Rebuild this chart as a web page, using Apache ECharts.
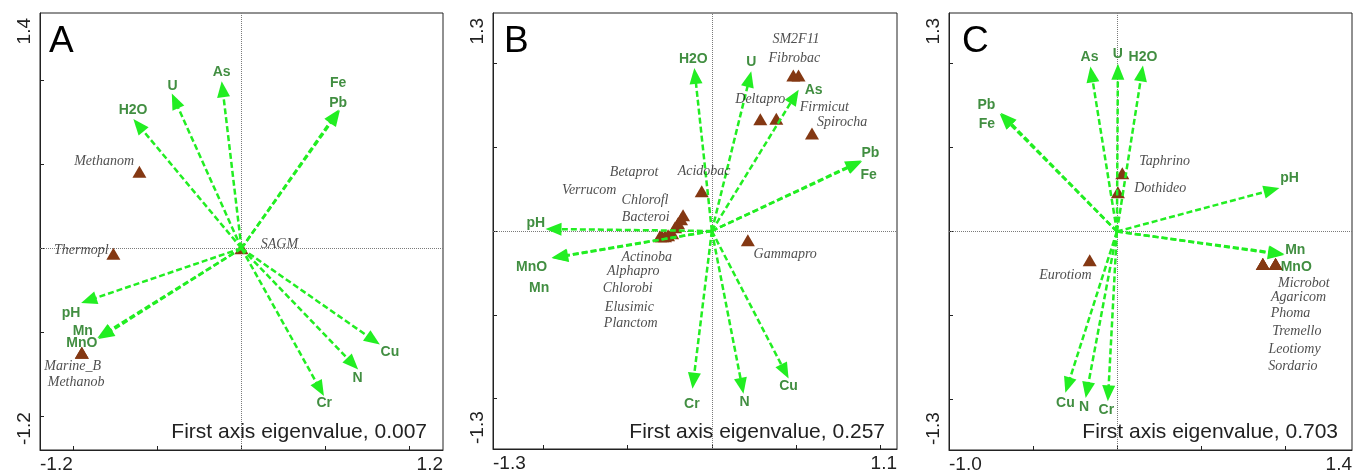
<!DOCTYPE html>
<html><head><meta charset="utf-8">
<script src="https://cdn.jsdelivr.net/npm/echarts@6/dist/echarts.min.js"></script>
<style>html,body{margin:0;padding:0;background:#fff}#c{width:1355px;height:474px}</style>
</head><body><div id="c"></div>
<script>
// ---------- DATA ----------
const panelLetters = ['A', 'B', 'C'];
const eigenvalues = ['0.007', '0.257', '0.703'];
const xAxisLimits = [[-1.2, 1.2], [-1.3, 1.1], [-1.0, 1.4]];
const yAxisLimits = [[-1.2, 1.4], [-1.3, 1.3], [-1.3, 1.3]];
const tickValues = [-1, -0.5, 0, 0.5, 1];

// Panel A - environmental arrows (tips) and label anchors
const envNamesA = ['H2O', 'U', 'As', 'Fe', 'Pb', 'pH', 'Mn', 'MnO', 'Cu', 'N', 'Cr'];
const envXA = [-0.644, -0.415, -0.118, 0.586, 0.580, -0.955, -0.858, -0.852, 0.824, 0.695, 0.491];
const envYA = [0.769, 0.921, 0.994, 0.822, 0.826, -0.325, -0.533, -0.540, -0.573, -0.721, -0.879];
const envLabelXA = [-0.646, -0.410, -0.118, 0.576, 0.576, -1.015, -0.945, -0.951, 0.884, 0.691, 0.493];
const envLabelYA = [0.822, 0.966, 1.046, 0.984, 0.865, -0.383, -0.495, -0.567, -0.620, -0.775, -0.922];
// Panel A - taxa
const spNamesA = ['Methanom', 'Thermopl', 'SAGM', 'Marine_B', 'Methanob'];
const spXA = [-0.608, -0.763, 0.0, -0.951, -0.951];
const spYA = [0.456, -0.033, 0.0, -0.622, -0.622];
const spLabelXA = [-0.818, -0.954, 0.226, -1.005, -0.985];
const spLabelYA = [0.519, -0.013, 0.025, -0.701, -0.800];

// Panel B
const envNamesB = ['H2O', 'U', 'As', 'Pb', 'Fe', 'pH', 'MnO', 'Mn', 'Cr', 'N', 'Cu'];
const envXB = [-0.104, 0.234, 0.516, 0.893, 0.888, -0.988, -0.952, -0.948, -0.115, 0.188, 0.456];
const envYB = [0.972, 0.952, 0.843, 0.416, 0.420, 0.012, -0.159, -0.163, -0.940, -0.970, -0.880];
const envLabelXB = [-0.110, 0.234, 0.605, 0.942, 0.932, -1.046, -1.071, -1.026, -0.119, 0.194, 0.456];
const envLabelYB = [1.024, 1.008, 0.839, 0.467, 0.332, 0.048, -0.215, -0.338, -1.033, -1.020, -0.926];
const spNamesB = ['SM2F11', 'Fibrobac', 'Deltapro', 'Firmicut', 'Spirocha', 'Acidobac', 'Betaprot', 'Verrucom',
  'Chlorofl', 'Bacteroi', 'Actinoba', 'Alphapro', 'Chlorobi', 'Elusimic', 'Planctom', 'Gammapro'];
const spXB = [0.515, 0.484, 0.288, 0.383, 0.595, -0.060, -0.171, -0.183, -0.201, -0.218, -0.236, -0.260, -0.278, -0.296, -0.308, 0.214];
const spYB = [0.928, 0.928, 0.666, 0.670, 0.581, 0.237, 0.094, 0.070, 0.046, 0.022, -0.014, -0.026, -0.032, -0.032, -0.032, -0.055];
const spLabelXB = [0.500, 0.490, 0.288, 0.668, 0.774, -0.046, -0.462, -0.729, -0.397, -0.393, -0.387, -0.467, -0.500, -0.490, -0.482, 0.436];
const spLabelYB = [1.143, 1.028, 0.783, 0.736, 0.646, 0.356, 0.352, 0.243, 0.183, 0.080, -0.155, -0.238, -0.343, -0.457, -0.552, -0.141];

// Panel C
const envNamesC = ['As', 'U', 'H2O', 'Pb', 'Fe', 'pH', 'Mn', 'MnO', 'Cu', 'N', 'Cr'];
const envXC = [-0.158, 0.006, 0.155, -0.698, -0.692, 0.968, 0.998, 0.994, -0.307, -0.186, -0.054];
const envYC = [0.982, 0.998, 0.988, 0.700, 0.706, 0.259, -0.135, -0.140, -0.960, -0.990, -1.010];
const envLabelXC = [-0.163, 0.006, 0.155, -0.777, -0.774, 1.028, 1.062, 1.068, -0.307, -0.196, -0.063];
const envLabelYC = [1.038, 1.058, 1.038, 0.750, 0.636, 0.316, -0.111, -0.211, -1.020, -1.045, -1.065];
const spNamesC = ['Taphrino', 'Dothideo', 'Eurotiom', 'Microbot', 'Agaricom', 'Phoma', 'Tremello', 'Leotiomy', 'Sordario'];
const spXC = [0.032, 0.006, -0.162, 0.945, 0.945, 0.869, 0.869, 0.945, 0.869];
const spYC = [0.346, 0.233, -0.171, -0.194, -0.194, -0.194, -0.194, -0.194, -0.194];
const spLabelXC = [0.284, 0.258, -0.307, 1.113, 1.082, 1.034, 1.071, 1.058, 1.048];
const spLabelYC = [0.416, 0.259, -0.260, -0.308, -0.394, -0.489, -0.596, -0.698, -0.801];

// ---------- BUILD ----------
const panels = [
  { env: [envNamesA, envXA, envYA, envLabelXA, envLabelYA], sp: [spNamesA, spXA, spYA, spLabelXA, spLabelYA] },
  { env: [envNamesB, envXB, envYB, envLabelXB, envLabelYB], sp: [spNamesB, spXB, spYB, spLabelXB, spLabelYB] },
  { env: [envNamesC, envXC, envYC, envLabelXC, envLabelYC], sp: [spNamesC, spXC, spYC, spLabelXC, spLabelYC] }
];
const gridBoxes = [
  { left: 40, top: 13, width: 403, height: 438 },
  { left: 493, top: 13, width: 404, height: 436 },
  { left: 949, top: 13, width: 404, height: 437 }
];
const letterLeft = [44, 499, 957];
const eigenRight = [923, 465, 12];

const ARROW = '#22ee22';
const ENVTXT = '#127212';
const TAXON = '#843813';
const SPTXT = '#222';
const AXIS = '#222';
const HEAD_W = 13, HEAD_L = 16;

const grids = [], xAxes = [], yAxes = [], series = [], titles = [];
const fmt = v => Number(v).toFixed(1);

panels.forEach((p, i) => {
  const box = gridBoxes[i];
  grids.push(Object.assign({ show: true, borderColor: AXIS, borderWidth: 1, backgroundColor: '#fff' }, box));
  xAxes.push({
    gridIndex: i, type: 'value', min: xAxisLimits[i][0], max: xAxisLimits[i][1],
    splitLine: { show: false },
    axisLine: { show: true, onZero: false, lineStyle: { color: AXIS, width: 1 } },
    axisTick: { show: true, inside: true, length: 4, customValues: tickValues, lineStyle: { color: AXIS } },
    axisLabel: {
      customValues: xAxisLimits[i], formatter: fmt, fontSize: 19, color: AXIS,
      fontFamily: 'Liberation Sans', margin: 5, alignMinLabel: 'left', alignMaxLabel: 'right'
    }
  });
  yAxes.push({
    gridIndex: i, type: 'value', min: yAxisLimits[i][0], max: yAxisLimits[i][1],
    splitLine: { show: false },
    axisLine: { show: true, onZero: false, lineStyle: { color: AXIS, width: 1 } },
    axisTick: { show: true, inside: true, length: 4, customValues: tickValues, lineStyle: { color: AXIS } },
    axisLabel: {
      customValues: yAxisLimits[i], formatter: fmt, fontSize: 19, color: AXIS, rotate: 90,
      fontFamily: 'Liberation Sans', margin: 6, alignMinLabel: 'left', alignMaxLabel: 'right',
      padding: [0, 5, 0, 5]
    }
  });

  const [eN, eX, eY, eLX, eLY] = p.env;
  const [sN, sX, sY, sLX, sLY] = p.sp;
  const sx = box.width / (xAxisLimits[i][1] - xAxisLimits[i][0]);
  const sy = box.height / (yAxisLimits[i][1] - yAxisLimits[i][0]);

  // taxa triangles (+ zero reference lines)
  series.push({
    type: 'scatter', xAxisIndex: i, yAxisIndex: i, z: 2, silent: true,
    symbol: 'triangle', symbolSize: [14, 12],
    itemStyle: { color: TAXON, opacity: 1 },
    data: sN.map((n, k) => [sX[k], sY[k], n]),
    markLine: {
      silent: true, z: 1, symbol: 'none', animation: false,
      label: { show: false },
      lineStyle: { color: '#7a7a7a', type: 'dotted', width: 1 },
      data: [{ xAxis: 0 }, { yAxis: 0 }]
    }
  });

  // environmental arrow heads (scatter, rotated along the arrow) hosting the dashed shafts
  series.push({
    type: 'scatter', xAxisIndex: i, yAxisIndex: i, z: 4, silent: true,
    symbol: 'triangle', symbolSize: [HEAD_W, HEAD_L],
    itemStyle: { color: ARROW, opacity: 1 },
    data: eN.map((n, k) => {
      const a = Math.atan2(eY[k] * sy, eX[k] * sx);
      return {
        value: [eX[k], eY[k], n],
        symbolRotate: a * 180 / Math.PI - 90,
        symbolOffset: [-Math.cos(a) * HEAD_L / 2, Math.sin(a) * HEAD_L / 2]
      };
    }),
    markLine: {
      silent: true, z: 3, animation: false,
      symbol: 'none',
      label: { show: false },
      lineStyle: { color: ARROW, type: [6, 3], width: 2.5, opacity: 1 },
      data: eN.map((n, k) => [{ coord: [0, 0] }, { coord: [eX[k] * 0.95, eY[k] * 0.95] }])
    }
  });

  // env labels
  series.push({
    type: 'scatter', xAxisIndex: i, yAxisIndex: i, z: 10, silent: true,
    symbol: 'circle', symbolSize: 1, itemStyle: { color: 'rgba(0,0,0,0)' },
    data: eN.map((n, k) => [eLX[k], eLY[k], n]),
    label: {
      show: true, position: 'inside', formatter: q => q.data[2],
      fontFamily: 'Liberation Sans', fontWeight: 'bold', fontSize: 14, color: ENVTXT
    }
  });

  // taxa labels
  series.push({
    type: 'scatter', xAxisIndex: i, yAxisIndex: i, z: 10, silent: true,
    symbol: 'circle', symbolSize: 1, itemStyle: { color: 'rgba(0,0,0,0)' },
    data: sN.map((n, k) => [sLX[k], sLY[k], n]),
    label: {
      show: true, position: 'inside', formatter: q => q.data[2],
      fontFamily: 'Liberation Serif', fontStyle: 'italic', fontSize: 14, color: SPTXT
    }
  });

  titles.push({
    text: panelLetters[i], left: letterLeft[i], top: 18,
    textStyle: { fontFamily: 'Liberation Sans', fontWeight: 'normal', fontSize: 37, color: '#000' }
  });
  titles.push({
    text: 'First axis eigenvalue, ' + eigenvalues[i], right: eigenRight[i], top: 417,
    textStyle: { fontFamily: 'Liberation Sans', fontWeight: 'normal', fontSize: 21, color: AXIS }
  });
});

const chart = echarts.init(document.getElementById('c'), null, { renderer: 'canvas' });
chart.setOption({
  animation: false,
  backgroundColor: '#fff',
  title: titles,
  grid: grids,
  xAxis: xAxes,
  yAxis: yAxes,
  series: series
});
</script>
</body></html>
